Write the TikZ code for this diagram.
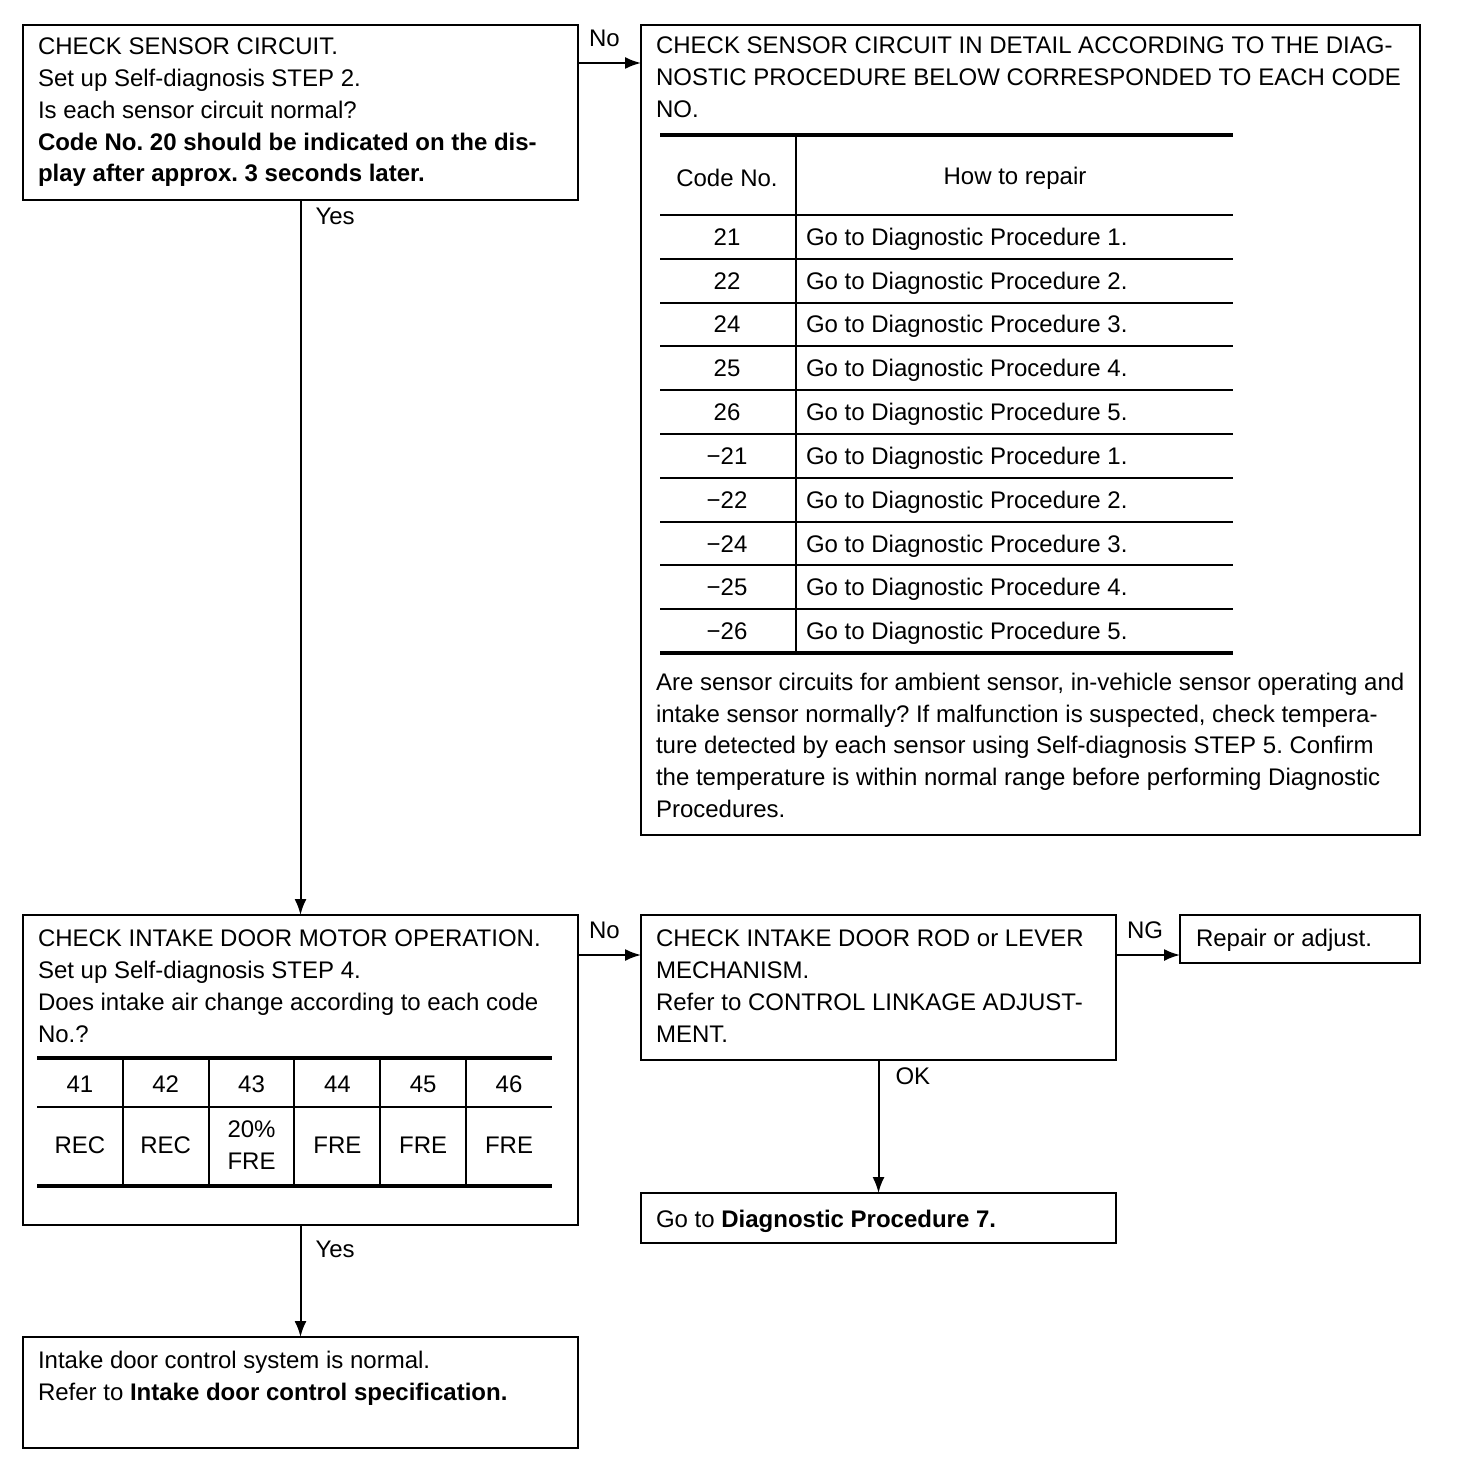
\documentclass[tikz,border=0pt]{standalone}
\usepackage{fontspec}
\setmainfont{Liberation Sans}
\usetikzlibrary{arrows.meta,positioning}
\frenchspacing

\tikzset{
  box/.style={draw, inner sep=0pt, outer sep=0pt, anchor=north west},
  txt/.style={inner sep=0pt, anchor=north west, align=left},
  heavyrule/.style={line width=2pt},
  lblup/.style={pos=0, anchor=south west, inner sep=0pt, xshift=5pt, yshift=7.5pt},
  lbldown/.style={pos=0, anchor=north west, inner sep=0pt, xshift=7pt, yshift=-3.5pt}
}

\begin{document}
\begin{tikzpicture}[x=0.5pt,y=-0.5pt,line width=1pt,
  >={Latex[length=8pt,width=6pt]},font=\fontsize{12}{15.9}\selectfont]
\useasboundingbox (0,0) rectangle (1456,1476);

  % Boxes
  \node[box, minimum width=277.5pt, minimum height=87.5pt] (A) at (23,25) {};
  \node[box, minimum width=389.5pt, minimum height=405pt] (B) at (641,25) {};
  \node[box, minimum width=277.5pt, minimum height=155pt] (C) at (23,915) {};
  \node[box, minimum width=237.5pt, minimum height=72.5pt] (D) at (641,915) {};
  \node[box, minimum width=120pt, minimum height=24pt] (E) at (1180,915) {};
  \node[box, minimum width=237.5pt, minimum height=25pt] (F) at (641,1193) {};
  \node[box, minimum width=277.5pt, minimum height=55.5pt] (G) at (23,1337) {};

  % Texts
  \node[txt] (Atxt) at (37,37) {CHECK SENSOR CIRCUIT.\\
    Set up Self-diagnosis STEP 2.\\
    Is each sensor circuit normal?\\
    \textbf{Code No. 20 should be indicated on the dis-}\\
    \textbf{play after approx. 3 seconds later.}};
  \node[txt] (Btxt) at (655,36) {CHECK SENSOR CIRCUIT IN DETAIL ACCORDING TO THE DIAG-\\
    NOSTIC PROCEDURE BELOW CORRESPONDED TO EACH CODE\\
    NO.};
  \node[txt] (Bnote) at (655,672) {Are sensor circuits for ambient sensor, in-vehicle sensor operating and\\
    intake sensor normally? If malfunction is suspected, check tempera-\\
    ture detected by each sensor using Self-diagnosis STEP 5. Confirm\\
    the temperature is within normal range before performing Diagnostic\\
    Procedures.};
  \node[txt] (Ctxt) at (37,929) {CHECK INTAKE DOOR MOTOR OPERATION.\\
    Set up Self-diagnosis STEP 4.\\
    Does intake air change according to each code\\
    No.?};
  \node[txt] (Dtxt) at (655,929) {CHECK INTAKE DOOR ROD or LEVER\\
    MECHANISM.\\
    Refer to CONTROL LINKAGE ADJUST-\\
    MENT.};
  \node[txt] (Etxt) at (1195,928) {Repair or adjust.};
  \node[txt] (Ftxt) at (655,1209) {Go to \textbf{Diagnostic Procedure 7.}};
  \node[txt] (Gtxt) at (37,1350) {Intake door control system is normal.\\
    Refer to \textbf{Intake door control specification.}};

  % Code table
  \draw[heavyrule] (660,135) -- (1233,135);
  \draw (660,215) -- (1233,215);
  \foreach \i in {1,...,9}
    \draw (660,{215+43.8*\i}) -- (1233,{215+43.8*\i});
  \draw[heavyrule] (660,653) -- (1233,653);
  \draw (796,135) -- (796,653);
  \node (hcode) at (727,178) {Code No.};
  \node (hrep) at (1015,178) {How to repair};
  \foreach \c/\p [count=\i] in {21/1,22/2,24/3,25/4,26/5,−21/1,−22/2,−24/3,−25/4,−26/5}{
    \node[anchor=base] (code\i) at (727,{215+43.8*(\i-0.5)+8.5}) {\c};
    \node[anchor=base west, inner sep=0pt] (rep\i) at (805,{215+43.8*(\i-0.5)+8.5}) {Go to Diagnostic Procedure \p.};
  }

  % Door table
  \draw[heavyrule] (37,1058) -- (552,1058);
  \draw (37,1107) -- (552,1107);
  \draw[heavyrule] (37,1186) -- (552,1186);
  \foreach \k in {1,...,5}
    \draw ({37+85.83*\k},1058) -- ({37+85.83*\k},1186);
  \foreach \c/\v [count=\k] in {41/REC,42/REC,43/{20\%\\FRE},44/FRE,45/FRE,46/FRE}{
    \node (dig\k) at ({37+85.83*(\k-0.5)},1084) {\c};
    \node[align=center] (val\k) at ({37+85.83*(\k-0.5)},1145) {\v};
  }

  % Arrows
  \path[->]
    ([yshift=-19pt]A.north east) edge node[lblup] {No} ([yshift=-19pt]B.north west)
    (A.south) edge node[lbldown] {Yes} (C.north)
    ([yshift=-20pt]C.north east) edge node[lblup] {No} ([yshift=-20pt]D.north west)
    ([yshift=-20pt]D.north east) edge node[lblup] {NG} ([yshift=-20pt]E.north west)
    (D.south) edge node[lbldown, xshift=1pt] {OK} (F.north)
    (C.south) edge node[lbldown, yshift=-4pt] {Yes} (G.north);

\end{tikzpicture}
\end{document}
